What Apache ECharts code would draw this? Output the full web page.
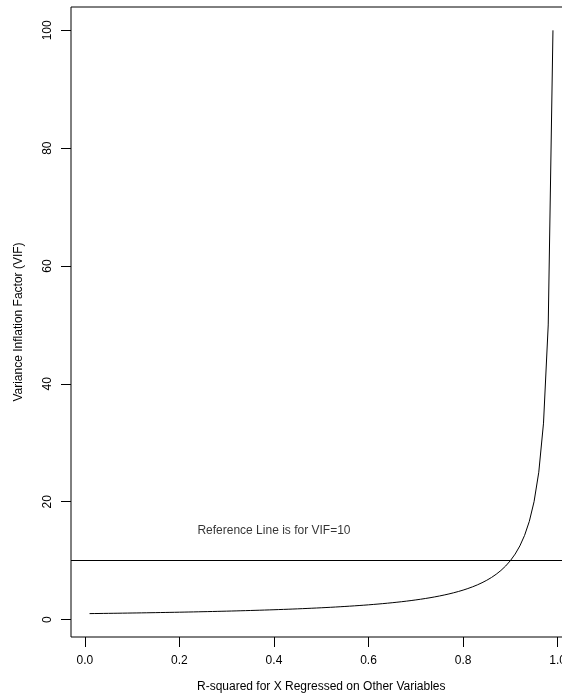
<!DOCTYPE html>
<html>
<head>
<meta charset="utf-8">
<script src="https://cdn.jsdelivr.net/npm/echarts@6/dist/echarts.min.js"></script>
<style>html,body{margin:0;padding:0;background:#fff}#c{width:562px;height:698px}</style>
</head>
<body>
<div id="c"></div>
<script>
// R-squared values (x) and the VIF read for each (y)
const rSquared = [0.01,0.02,0.03,0.04,0.05,0.06,0.07,0.08,0.09,0.10,
  0.11,0.12,0.13,0.14,0.15,0.16,0.17,0.18,0.19,0.20,
  0.21,0.22,0.23,0.24,0.25,0.26,0.27,0.28,0.29,0.30,
  0.31,0.32,0.33,0.34,0.35,0.36,0.37,0.38,0.39,0.40,
  0.41,0.42,0.43,0.44,0.45,0.46,0.47,0.48,0.49,0.50,
  0.51,0.52,0.53,0.54,0.55,0.56,0.57,0.58,0.59,0.60,
  0.61,0.62,0.63,0.64,0.65,0.66,0.67,0.68,0.69,0.70,
  0.71,0.72,0.73,0.74,0.75,0.76,0.77,0.78,0.79,0.80,
  0.81,0.82,0.83,0.84,0.85,0.86,0.87,0.88,0.89,0.90,
  0.91,0.92,0.93,0.94,0.95,0.96,0.97,0.98,0.99];
const vif = [1.0101,1.0204,1.0309,1.0417,1.0526,1.0638,1.0753,1.0870,1.0989,1.1111,
  1.1236,1.1364,1.1494,1.1628,1.1765,1.1905,1.2048,1.2195,1.2346,1.25,
  1.2658,1.2821,1.2987,1.3158,1.3333,1.3514,1.3699,1.3889,1.4085,1.4286,
  1.4493,1.4706,1.4925,1.5152,1.5385,1.5625,1.5873,1.6129,1.6393,1.6667,
  1.6949,1.7241,1.7544,1.7857,1.8182,1.8519,1.8868,1.9231,1.9608,2.0,
  2.0408,2.0833,2.1277,2.1739,2.2222,2.2727,2.3256,2.381,2.439,2.5,
  2.5641,2.6316,2.7027,2.7778,2.8571,2.9412,3.0303,3.125,3.2258,3.3333,
  3.4483,3.5714,3.7037,3.8462,4.0,4.1667,4.3478,4.5455,4.7619,5.0,
  5.2632,5.5556,5.8824,6.25,6.6667,7.1429,7.6923,8.3333,9.0909,10.0,
  11.111,12.5,14.286,16.667,20.0,25.0,33.333,50.0,100.0];
const referenceVIF = 10;
const noteText = 'Reference Line is for VIF=10';
const notePos = [0.4, 15];
const xTicks = [0, 0.2, 0.4, 0.6, 0.8, 1.0];
const yTicks = [0, 20, 40, 60, 80, 100];
const xTitle = 'R-squared for X Regressed on Other Variables';
const yTitle = 'Variance Inflation Factor (VIF)';

const FONT = 'Liberation Sans, Arial, Helvetica, sans-serif';
const xMin = -0.0292, xMax = 1.0292, yMin = -2.96, yMax = 103.96;

const chart = echarts.init(document.getElementById('c'), null, {renderer: 'canvas'});
chart.setOption({
  animation: false,
  backgroundColor: '#ffffff',
  grid: {left: 71, top: 7, width: 500.5, height: 630, show: true, borderColor: '#000', borderWidth: 1,
    backgroundColor: 'transparent', containLabel: false, outerBoundsMode: 'none'},
  xAxis: {
    type: 'value', min: xMin, max: xMax,
    axisLine: {show: false, onZero: false},
    splitLine: {show: false},
    axisTick: {show: true, inside: false, length: 10, customValues: xTicks, lineStyle: {color: '#000', width: 1}},
    axisLabel: {show: true, customValues: xTicks, margin: 18, color: '#000', fontSize: 12, fontFamily: FONT,
      hideOverlap: false, formatter: v => v.toFixed(1)},
    name: xTitle, nameLocation: 'middle', nameGap: 44,
    nameTextStyle: {color: '#000', fontSize: 12, fontFamily: FONT}
  },
  yAxis: {
    type: 'value', min: yMin, max: yMax,
    axisLine: {show: false, onZero: false},
    splitLine: {show: false},
    axisTick: {show: true, inside: false, length: 10, customValues: yTicks, lineStyle: {color: '#000', width: 1}},
    axisLabel: {show: true, customValues: yTicks, margin: 17, rotate: 90, color: '#000', fontSize: 12, fontFamily: FONT,
      formatter: v => String(v)},
    name: yTitle, nameLocation: 'middle', nameGap: 46, nameRotate: 90,
    nameTextStyle: {color: '#000', fontSize: 12, fontFamily: FONT}
  },
  series: [
    {
      type: 'line',
      data: rSquared.map((r, i) => [r, vif[i]]),
      showSymbol: false, symbol: 'none',
      lineStyle: {color: '#000', width: 1},
      silent: true,
      markLine: {
        silent: true, symbol: 'none', label: {show: false},
        lineStyle: {color: '#000', width: 1, type: 'solid'},
        data: [{yAxis: referenceVIF}]
      }
    },
    {
      type: 'scatter',
      data: [notePos],
      symbolSize: 0,
      silent: true,
      label: {show: true, position: 'inside', formatter: noteText, color: '#000', fontSize: 12, fontFamily: FONT}
    }
  ]
});
</script>
</body>
</html>
